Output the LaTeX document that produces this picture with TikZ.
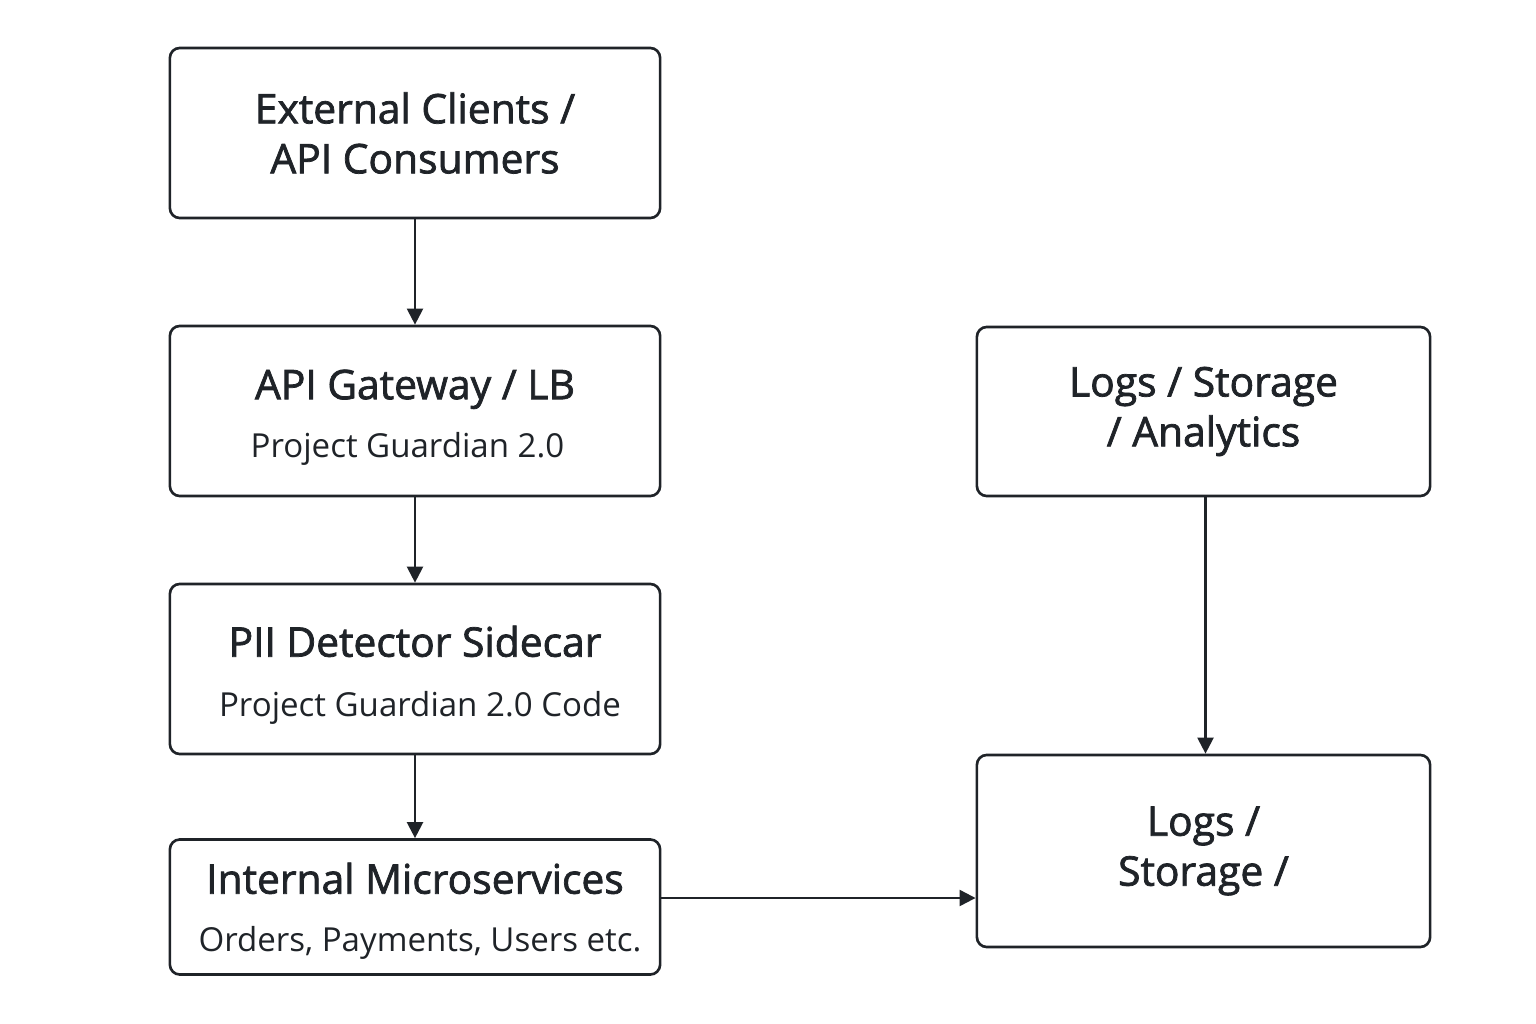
\documentclass[tikz,border=0pt]{standalone}
\usepackage{fontspec}
\setmainfont{Open Sans}
\newfontfamily\ttlfont[FakeBold=1.8]{Open Sans}
\usetikzlibrary{arrows.meta,positioning}
\definecolor{ink}{HTML}{1F2328}

\begin{document}
\begin{tikzpicture}
[
x=0.01cm, y=-0.01cm
, >={Triangle[length=1.6mm,width=1.6mm]}
, every node/.style={text=ink}
, box/.style={draw=ink, line width=0.75pt, rounded corners=1mm, align=center, inner sep=0pt}
, lbox/.style={box, minimum width=4.9cm, minimum height=1.7cm}
, rbox/.style={box, minimum width=4.53cm}
, ttl/.style={font=\ttlfont\fontsize{11.6}{14.2}\selectfont}
, sub/.style={font=\ttlfont\fontsize{11.6}{17}\selectfont}
, flow/.style={draw=ink, line width=0.65pt, ->}
]

\useasboundingbox (0,0) rectangle (1536,1024);

% left column
\node[lbox,ttl] (clients) at (415,133) {External Clients /\\API Consumers};
\node[lbox,sub] (gateway) at (415,411) {\raisebox{-1.2mm}[3.1mm]{API Gateway / LB}\\[1.1mm]{\normalfont\fontsize{9.4}{11}\selectfont\hspace*{-0.15cm}Project Guardian 2.0}};
\node[lbox,sub] (sidecar) at (415,669) {\raisebox{-1.2mm}[3.1mm]{PII Detector Sidecar}\\[1.2mm]{\normalfont\fontsize{9.4}{11}\selectfont\hspace*{0.1cm}Project Guardian 2.0 Code}};
\node[lbox,sub,minimum height=1.35cm] (micro) at (415,907) {\raisebox{-0.8mm}[3.1mm]{Internal Microservices}\\[0.6mm]{\normalfont\fontsize{9.4}{11}\selectfont\hspace*{0.1cm}Orders, Payments, Users etc.}};

% right column
\node[rbox,ttl,minimum height=1.69cm] (analytics) at (1203.5,411.5) {Logs / Storage\\/ Analytics};
\node[rbox,ttl,minimum height=1.92cm] (storage) at (1203.5,851) {Logs /\\Storage /};

% connectors
\draw[flow] (clients) -- (gateway);
\draw[flow] (gateway) -- (sidecar);
\draw[flow] (sidecar) -- (micro);
\draw[flow] (analytics.south) ++(2,0) coordinate (a) -- (a |- storage.north);
\draw[flow] (micro.east |- 0,898) -- (storage.west |- 0,898);

\end{tikzpicture}
\end{document}
